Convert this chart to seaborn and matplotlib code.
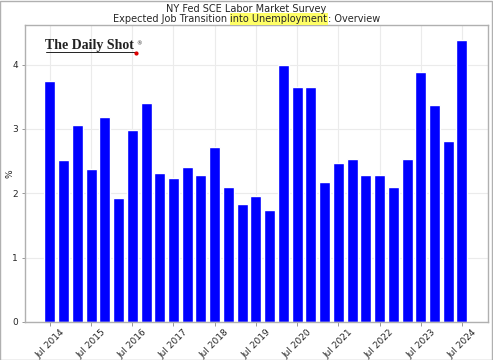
import matplotlib
matplotlib.use("Agg")
import matplotlib.pyplot as plt
import pandas as pd
import seaborn as sns
from matplotlib.patches import Rectangle

# survey readings, one every four months, Jul 2014 .. Jul 2024
dates = pd.date_range("2014-07-01", "2024-07-01", freq="4MS")
values = [3.75, 2.51, 3.06, 2.37, 3.19, 1.92, 2.98, 3.40, 2.32, 2.23,
          2.41, 2.28, 2.72, 2.10, 1.83, 1.96, 1.74, 3.99, 3.66, 3.65,
          2.18, 2.47, 2.53, 2.29, 2.29, 2.10, 2.54, 3.88, 3.38, 2.82, 4.39]
title1 = "NY Fed SCE Labor Market Survey"
title2 = ["Expected Job Transition ", "into Unemployment", ": Overview"]

df = pd.DataFrame({"date": dates.strftime("%b %Y"), "value": values})

sns.set_style("whitegrid")
plt.rcParams["font.family"] = ["DejaVu Sans"]

fig = plt.figure(figsize=(4.93, 3.6), dpi=100)
ax = fig.add_axes([0.051, 0.106, 0.939, 0.825])

sns.barplot(data=df, x="date", y="value", color="#0000ff", saturation=1,
            width=0.8, ax=ax)

# x ticks only at each July
tick_idx = [i for i, d in enumerate(dates) if d.month == 7]
ax.set_xticks(tick_idx)
ax.set_xticklabels([df["date"][i] for i in tick_idx], rotation=45,
                   fontsize=6.5)
ax.set_xlim(-1.8, len(values) - 1 + 1.9)
ax.set_ylim(0, 4.62)
ax.set_yticks([0, 1, 2, 3, 4])
ax.tick_params(axis="y", labelsize=6.5, length=2, width=0.6,
               color="#888888", pad=3, left=True)
ax.tick_params(axis="x", length=3, width=0.6, color="#888888", pad=1,
               bottom=True)
ax.set_xlabel("")
ax.set_ylabel("%", fontsize=6.5)
ax.yaxis.set_label_coords(-0.024, 0.5)
ax.grid(True, color="#ebebeb", linewidth=0.8)
for s in ax.spines.values():
    s.set_color("#b0b0b0")
    s.set_linewidth(1)

# title with highlighted phrase
fs = 7
fig.text(0.5, 0.976, title1, ha="center", va="center", fontsize=fs)
renderer = fig.canvas.get_renderer()
probe = fig.text(0, 0, "".join(title2), fontsize=fs)
w = probe.get_window_extent(renderer).width / fig.bbox.width
probe.remove()
t = fig.text(0.5 - w / 2, 0.947, title2[0], ha="left", va="center",
             fontsize=fs)
t = ax.annotate(title2[1], xy=(1, 0), xycoords=t, va="bottom", fontsize=fs,
                bbox=dict(boxstyle="square,pad=0.08", fc="#ffff66", ec="none"),
                annotation_clip=False)
ax.annotate(title2[2], xy=(1, 0), xycoords=t, va="bottom", fontsize=fs,
            annotation_clip=False)

# logo
ax.text(0.043, 0.9175, "The Daily Shot", transform=ax.transAxes,
        fontsize=10, family=["Liberation Serif"], weight="bold",
        color="#222222", va="baseline")
ax.text(0.239, 0.936, "®", transform=ax.transAxes, fontsize=4,
        color="#222222", va="center")
ax.plot([0.044, 0.238], [0.908, 0.908], transform=ax.transAxes,
        color="#222222", linewidth=0.7)
ax.plot([0.240], [0.906], "o", transform=ax.transAxes, color="#dd0000",
        markersize=2)

fig.patches.append(Rectangle((0.001, 0.001), 0.997, 0.997,
                             transform=fig.transFigure, fill=False,
                             edgecolor="#b0b0b0", linewidth=1))

fig.savefig("out.png", dpi=100)
